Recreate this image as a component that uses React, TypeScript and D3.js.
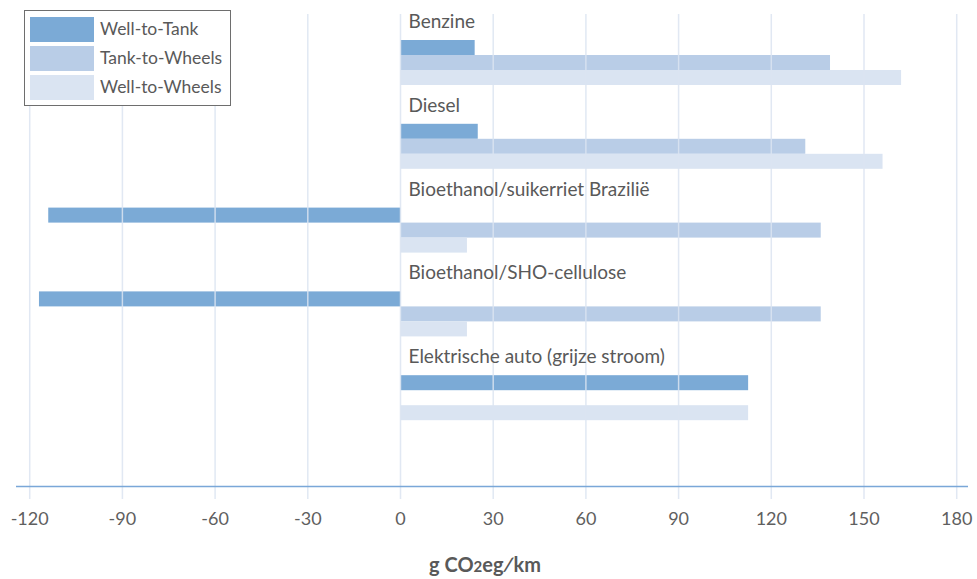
import React from "react";
import * as d3 from "d3";

const categories = [
  "Benzine",
  "Diesel",
  "Bioethanol/suikerriet Brazilië",
  "Bioethanol/SHO-cellulose",
  "Elektrische auto (grijze stroom)",
];
const seriesNames = ["Well-to-Tank", "Tank-to-Wheels", "Well-to-Wheels"];
const wellToTank = [24, 25, -114, -117, 112.5];
const tankToWheels = [139, 131, 136, 136, 0];
const wellToWheels = [162, 156, 21.5, 21.5, 112.5];
const xTicks = [-120, -90, -60, -30, 0, 30, 60, 90, 120, 150, 180];
const colors = ["#7BAAD6", "#B9CDE7", "#DAE4F2"];

const W = 977;
const H = 579;
const FONT = "Lato, 'Open Sans', sans-serif";

export default function App() {
  const x = d3.scaleLinear().domain([-120, 180]).range([29.7, 956.7]);
  const y = d3.scaleBand<string>().domain(categories).range([14.5, 433.5]).paddingInner(0).paddingOuter(0);
  const sub = d3.scaleBand<string>().domain(seriesNames).range([0, 45]);
  const series = [wellToTank, tankToWheels, wellToWheels];
  const barOffset = 25.5;
  const axisY = 486.5;

  return (
    <svg width={W} height={H} style={{ position: "absolute", left: 0, top: 0 }}>
      <rect x={0} y={0} width={W} height={H} fill="#fff" />
      {categories.map((c, i) => (
        <g key={c}>
          {series.map((s, j) => {
            const v = s[i];
            if (v === 0) return null;
            const y0 = (y(c) as number) + barOffset + (sub(seriesNames[j]) as number);
            return (
              <rect
                key={j}
                x={x(Math.min(0, v))}
                y={y0}
                width={Math.abs(x(v) - x(0))}
                height={sub.bandwidth()}
                fill={colors[j]}
              />
            );
          })}
        </g>
      ))}
      {xTicks.map((t) => (
        <line key={t} x1={x(t)} x2={x(t)} y1={14} y2={499} stroke="#DCE5F2" strokeWidth={1.5} opacity={0.85} />
      ))}
      {categories.map((c) => (
        <text
          key={c}
          x={x(0) + 8}
          y={(y(c) as number) + barOffset - 12}
          fontFamily={FONT}
          fontSize={19}
          fill="#595959"
        >
          {c}
        </text>
      ))}
      <line x1={16} x2={968} y1={axisY} y2={axisY} stroke="#7AA7D8" strokeWidth={1.5} />
      {xTicks.map((t) => (
        <text key={t} x={x(t)} y={525} textAnchor="middle" fontFamily={FONT} fontSize={18} fill="#5f5f5f">
          {t}
        </text>
      ))}
      <text x={485} y={572} textAnchor="middle" fontFamily={FONT} fontSize={20} fontWeight="bold" fill="#595959">
        g CO<tspan fontSize={15}>2</tspan>eg∕km
      </text>
      <rect x={24.5} y={10.5} width={206} height={95} fill="#fff" stroke="#6E6E6E" strokeWidth={1} />
      {seriesNames.map((n, j) => (
        <g key={n}>
          <rect x={30} y={17 + j * 29} width={64} height={25} fill={colors[j]} />
          <text x={100} y={34.5 + j * 29} fontFamily={FONT} fontSize={17.5} fill="#595959">
            {n}
          </text>
        </g>
      ))}
    </svg>
  );
}
